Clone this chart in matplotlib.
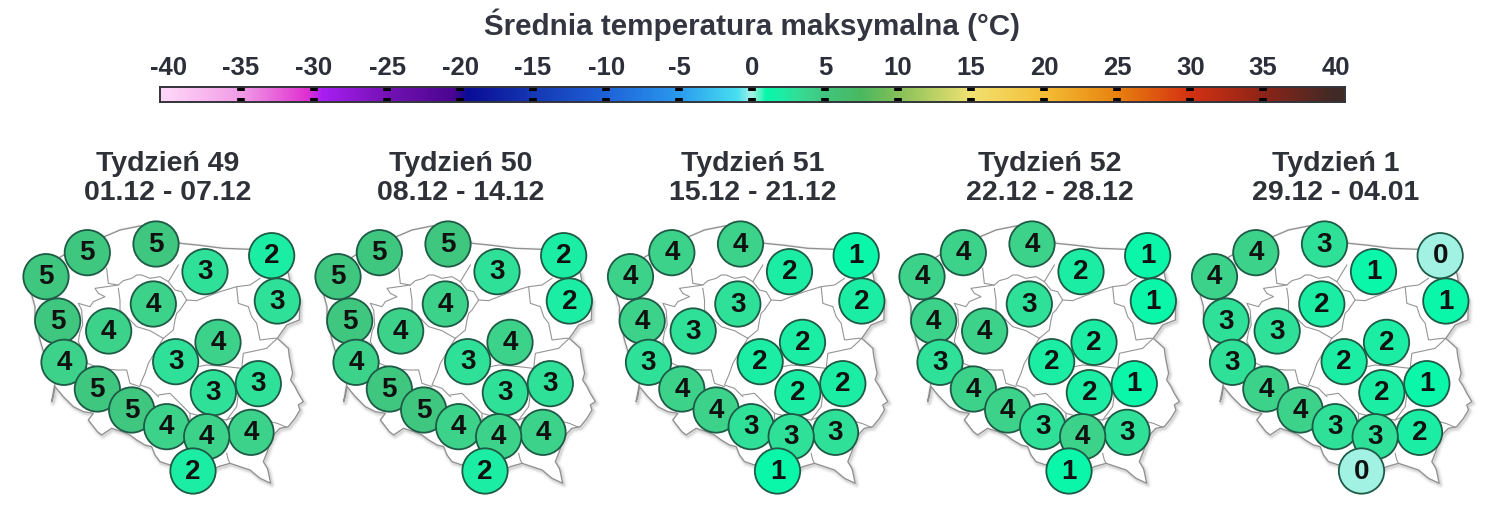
import matplotlib
matplotlib.use('Agg')
import matplotlib.pyplot as plt
import numpy as np
from matplotlib.colors import LinearSegmentedColormap, Normalize
from matplotlib.patches import Circle

W, H = 1506, 507

# week headers
weeks = ['Tydzień 49', 'Tydzień 50', 'Tydzień 51', 'Tydzień 52', 'Tydzień 1']
dates = ['01.12 - 07.12', '08.12 - 14.12', '15.12 - 21.12', '22.12 - 28.12', '29.12 - 04.01']

# stations, in the order they are stacked on the map
station_x = [108, 232, 438, 585, 785, 802, 143, 296, 430, 624, 497, 162, 262, 365, 470, 610, 745, 723, 590, 549]
station_y = [200, 128, 102, 185, 137, 273, 333, 363, 282, 397, 455, 457, 537, 600, 650, 548, 521, 667, 680, 783]

week_49 = [5, 5, 5, 3, 2, 3, 5, 4, 4, 4, 3, 4, 5, 5, 4, 3, 3, 4, 4, 2]
week_50 = [5, 5, 5, 3, 2, 2, 5, 4, 4, 4, 3, 4, 5, 5, 4, 3, 3, 4, 4, 2]
week_51 = [4, 4, 4, 2, 1, 2, 4, 3, 3, 2, 2, 3, 4, 4, 3, 2, 2, 3, 3, 1]
week_52 = [4, 4, 4, 2, 1, 1, 4, 4, 3, 2, 2, 3, 4, 4, 3, 2, 1, 3, 4, 1]
week_1 = [4, 4, 3, 1, 0, 1, 3, 3, 2, 2, 2, 3, 4, 4, 3, 2, 1, 2, 3, 0]
week_values = [week_49, week_50, week_51, week_52, week_1]

# country outline and province borders
outline = [(170, 130), (230, 100), (295, 75), (330, 60), (390, 48), (440, 42), (510, 100), (570, 106), (640, 115),
           (720, 118), (790, 120), (835, 190), (840, 215), (870, 270), (868, 330), (830, 345), (802, 385),
           (835, 415), (838, 440), (842, 460), (848, 490), (842, 510), (855, 530), (865, 550), (880, 575),
           (865, 585), (870, 600), (855, 625), (835, 650), (810, 655), (795, 670), (780, 700), (772, 725),
           (760, 755), (772, 775), (775, 785), (782, 820), (750, 805), (720, 780), (690, 770), (660, 760),
           (625, 770), (590, 790), (530, 800), (480, 765), (450, 755), (435, 735), (425, 710), (405, 705),
           (380, 690), (360, 675), (335, 665), (305, 655), (275, 675), (262, 665), (235, 630), (250, 610),
           (220, 605), (190, 590), (160, 560), (135, 530), (130, 560), (125, 575), (135, 520), (130, 480),
           (105, 440), (90, 390), (75, 320), (75, 290), (50, 200), (170, 130)]
borders = [
    [(290, 175), (295, 220), (325, 225), (290, 230), (255, 235), (265, 250), (285, 260), (250, 275), (240, 290),
     (205, 280), (215, 300), (218, 345), (210, 365), (205, 395), (225, 430), (232, 460)],
    [(325, 225), (340, 212), (365, 205), (380, 195), (395, 195), (420, 205), (450, 200), (475, 215), (490, 190),
     (505, 165)],
    [(325, 235), (330, 270), (330, 300), (360, 330), (380, 350), (420, 362), (460, 385)],
    [(475, 215), (495, 240), (515, 245), (530, 270), (510, 300), (500, 310), (495, 330), (490, 360), (460, 385)],
    [(530, 270), (560, 272), (590, 260), (630, 245), (680, 230), (720, 225), (750, 205)],
    [(680, 230), (685, 280), (715, 290), (725, 320), (740, 340), (750, 390), (790, 385), (802, 385)],
    [(802, 385), (770, 415), (700, 430), (695, 475), (650, 470), (590, 465), (565, 470)],
    [(460, 385), (415, 460), (405, 490), (390, 525), (420, 535), (445, 560)],
    [(232, 460), (270, 475), (320, 480), (350, 480), (360, 520), (390, 530)],
    [(445, 555), (480, 550), (505, 575), (520, 590), (540, 610), (540, 640)],
    [(540, 610), (580, 620), (650, 630), (680, 590), (695, 475)],
    [(650, 630), (700, 610), (760, 630), (802, 640), (830, 652)],
    [(650, 730), (655, 750), (660, 760)],
    [(530, 700), (530, 730), (505, 745), (480, 765)],
]

# colour scale
scale_ticks = list(range(-40, 45, 5))
scale_stops = [(-40, '#FFD4F8'), (-35, '#F19BE6'), (-30.5, '#E030D0'), (-29.5, '#A81EF2'), (-25, '#7412B4'),
               (-20.5, '#4A0590'), (-19.5, '#0A0C96'), (-15, '#1538B4'), (-10, '#1E62D8'), (-5, '#2A9AEE'),
               (-1, '#48E0F0'), (0, '#A8F2E6'), (1, '#06F7A9'), (2, '#1CEDA5'), (3, '#2FE098'), (4, '#3DD28A'),
               (5, '#3FC680'), (7.5, '#4AB860'), (10, '#84C058'), (15, '#F2E272'), (20, '#F5BE36'),
               (25, '#E8820F'), (30, '#D53212'), (35, '#8E2418'), (40, '#3F2A26')]
norm = Normalize(-40, 40)
cmap = LinearSegmentedColormap.from_list(
    'temp', [(norm(v), c) for v, c in scale_stops], N=1024)

plt.rcParams['font.family'] = ['Liberation Sans', 'DejaVu Sans']

fig = plt.figure(figsize=(W / 100, H / 100), dpi=100, facecolor='white')


def px_axes(x0, y0, x1, y1):
    return fig.add_axes([x0 / W, 1 - y1 / H, (x1 - x0) / W, (y1 - y0) / H])


fig.text(752 / W, 1 - 25 / H, 'Średnia temperatura maksymalna (°C)', ha='center', va='center',
         fontsize=21.3, fontweight='bold', color='#333640')

# colour bar
cax = px_axes(160, 87, 1345, 102)
gradient = np.linspace(-40.55, 40.6, 1200).reshape(1, -1)
cax.imshow(gradient, cmap=cmap, norm=norm, aspect='auto', extent=(-40.55, 40.6, 0, 1))
cax.set_xlim(-40.55, 40.6)
cax.set_ylim(0, 1)
cax.set_yticks([])
cax.set_xticks(scale_ticks)
cax.set_xticklabels(scale_ticks, fontsize=18.5, fontweight='bold', color='#2C2F3A')
cax.tick_params(axis='x', length=0, pad=5, top=True, bottom=False, labeltop=True, labelbottom=False)
for v in scale_ticks[1:-1]:
    cax.plot([v, v], [0.75, 1.0], color='black', lw=5.5, solid_capstyle='butt')
    cax.plot([v, v], [0.0, 0.25], color='black', lw=5.5, solid_capstyle='butt')
for side in cax.spines.values():
    side.set_linewidth(1.4)
    side.set_color('#33343A')

# one map per week
panel_shift = [0, 292, 584.5, 876, 1168.5]
title_x = [168, 461, 753, 1050, 1336]
outline_x, outline_y = zip(*outline)

for i, values in enumerate(week_values):
    ax = px_axes(10 + panel_shift[i], 210, 320 + panel_shift[i], 500)
    ax.set_xlim(0, 930)
    ax.set_ylim(870, 0)
    ax.axis('off')
    ax.patch.set_alpha(0)

    # soft shadow under the country edge
    for lw, alpha in [(5, 0.06), (3, 0.10), (1.5, 0.15)]:
        ax.plot(np.array(outline_x) + 4, np.array(outline_y) + 5, color='#777777', lw=lw, alpha=alpha,
                solid_joinstyle='round')
    ax.fill(outline_x, outline_y, color='white', zorder=2)
    ax.plot(outline_x, outline_y, color='#909090', lw=1.0, zorder=3)
    for line in borders:
        bx, by = zip(*line)
        ax.plot(bx, by, color='#959595', lw=0.8, zorder=3)

    for k, (sx, sy, val) in enumerate(zip(station_x, station_y, values)):
        ax.add_patch(Circle((sx, sy), 68, facecolor=cmap(norm(val)), edgecolor='#1E5A46', lw=1.3,
                            zorder=4 + k * 0.01))
        ax.text(sx, sy + 2, str(val), ha='center', va='center', fontsize=20, fontweight='bold',
                color='#111111', zorder=4.005 + k * 0.01)

    fig.text(title_x[i] / W, 1 - 164 / H, weeks[i], ha='center', va='center', fontsize=20.5,
             fontweight='bold', color='#2F3138')
    fig.text(title_x[i] / W, 1 - 193 / H, dates[i], ha='center', va='center', fontsize=20.5,
             fontweight='bold', color='#2F3138')

fig.savefig('out.png', dpi=100)
